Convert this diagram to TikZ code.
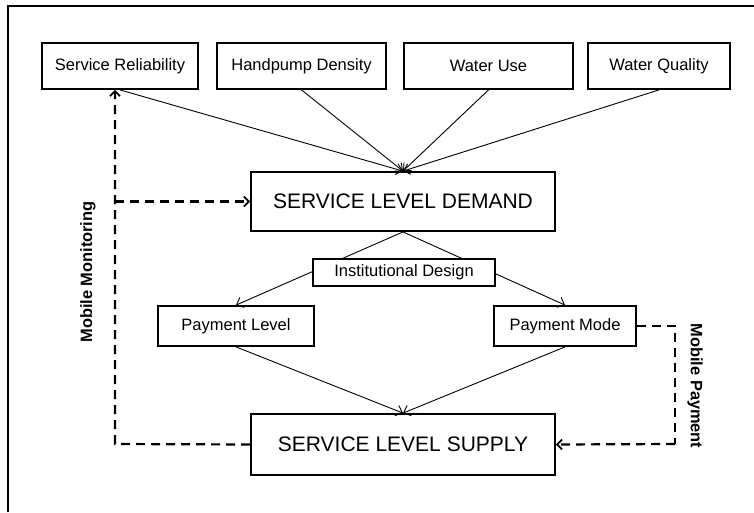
\documentclass[tikz,border=0pt]{standalone}
\usepackage{fontspec}
\setmainfont{Liberation Sans}
\usetikzlibrary{arrows.meta}
\begin{document}
\begin{tikzpicture}[x=1pt,y=-1pt,
  box/.style={draw,line width=1.8pt,rectangle,fill=white,inner sep=0pt,font=\fontsize{16.5}{18}\selectfont},
  bigbox/.style={box,font=\fontsize{21}{24}\selectfont},
  flow/.style={line width=0.9pt,-{Straight Barb[length=6pt,width=11pt,line width=0.9pt]}},
  dline/.style={line width=2.2pt,dash pattern=on 9pt off 6pt},
  darrow/.style={dline,-{Straight Barb[length=5pt,width=10pt,line width=1.8pt]}},
  lab/.style={font=\bfseries\fontsize{16.4}{18}\selectfont}]
\useasboundingbox (0,0) rectangle (754,512);
\draw[line width=1.8pt] (8,512) -- (8,6) -- (754,6);
\node[box,minimum width=156pt,minimum height=46pt] (sr) at (120,66) {Service Reliability};
\node[box,minimum width=169pt,minimum height=46pt] (hd) at (301.5,66) {Handpump Density};
\node[box,minimum width=169pt,minimum height=46pt] (wu) at (488.5,66) {Water Use};
\node[box,minimum width=142pt,minimum height=46pt] (wq) at (659,66) {Water Quality};
\node[bigbox,minimum width=304pt,minimum height=59pt] (dem) at (403,201.5) {SERVICE LEVEL DEMAND};
\node[box,minimum width=156pt,minimum height=40pt] (pl) at (236,326) {Payment Level};
\node[box,minimum width=142pt,minimum height=40pt] (pm) at (565,326) {Payment Mode};
\node[bigbox,minimum width=304pt,minimum height=61pt] (sup) at (403,444.5) {SERVICE LEVEL SUPPLY};
\foreach \n in {sr,hd,wu,wq} \draw[flow] (\n.south) -- (dem.north);
\draw[flow] (dem.south) -- (pl.north);
\draw[flow] (dem.south) -- (pm.north);
\node[box,line width=1.6pt,minimum width=182pt,minimum height=27pt] (id) at (404,272.5) {Institutional Design};
\draw[flow] (pl.south) -- (sup.north);
\draw[flow] (pm.south) -- (sup.north);
\coordinate (mm) at (115,444);
\coordinate (mp) at (675,444);
\draw[darrow] (sup.west) -- (mm) -- (mm |- sr.south);
\draw[darrow] (mm |- dem.west) -- (dem.west);
\draw[dline] (pm.east) -| (mp);
\draw[darrow] (mp) -- (sup.east);
\node[lab,rotate=90] (mmon) at (88,272) {Mobile Monitoring};
\node[lab,rotate=-90] (mpay) at (695,386) {Mobile Payment};
\end{tikzpicture}
\end{document}
